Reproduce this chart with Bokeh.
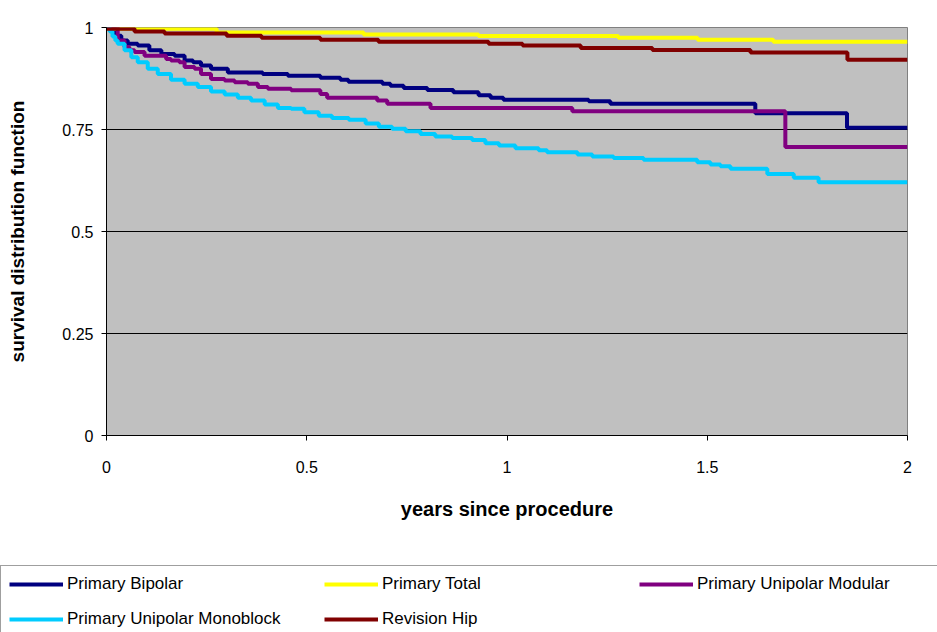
from bokeh.plotting import figure
from bokeh.layouts import column
from bokeh.models import Range1d, FixedTicker, Legend, LegendItem
from bokeh.embed import file_html
from bokeh.resources import INLINE

# ---- data ----
series_names = ["Primary Bipolar", "Primary Total", "Primary Unipolar Modular",
                "Primary Unipolar Monoblock", "Revision Hip"]
series_colors = ["#000080", "#FFFF00", "#800080", "#00CCFF", "#800000"]

t_bipolar = [0, 0.02, 0.037, 0.053, 0.078, 0.107, 0.137, 0.170, 0.195, 0.216, 0.236, 0.261,
             0.303, 0.390, 0.453, 0.534, 0.584, 0.604, 0.689, 0.709, 0.742, 0.801, 0.866,
             0.929, 0.959, 0.991, 1.204, 1.258, 1.620, 1.849, 2.0]
s_bipolar = [1.0, 0.980, 0.968, 0.960, 0.956, 0.944, 0.935, 0.931, 0.919, 0.915, 0.907, 0.899,
             0.890, 0.886, 0.882, 0.877, 0.872, 0.867, 0.862, 0.857, 0.852, 0.847, 0.841,
             0.834, 0.828, 0.823, 0.819, 0.813, 0.790, 0.754, 0.754]

t_total = [0, 0.275, 0.642, 0.929, 1.278, 1.476, 1.665, 2.0]
s_total = [0.997, 0.988, 0.983, 0.979, 0.975, 0.970, 0.965, 0.965]

t_modular = [0, 0.028, 0.045, 0.057, 0.070, 0.095, 0.149, 0.161, 0.182, 0.195, 0.220, 0.236,
             0.261, 0.295, 0.320, 0.353, 0.378, 0.403, 0.461, 0.534, 0.551, 0.676, 0.701,
             0.809, 1.163, 1.695, 2.0]
s_modular = [1.0, 0.968, 0.952, 0.944, 0.940, 0.931, 0.923, 0.919, 0.915, 0.903, 0.899, 0.886,
             0.874, 0.870, 0.866, 0.862, 0.854, 0.850, 0.846, 0.837, 0.828, 0.821, 0.813,
             0.803, 0.795, 0.707, 0.707]

t_monoblock = [0, 0.008, 0.015, 0.022, 0.028, 0.045, 0.062, 0.078, 0.103, 0.128, 0.161, 0.195,
               0.228, 0.261, 0.295, 0.328, 0.361, 0.395, 0.428, 0.461, 0.494, 0.530, 0.563,
               0.605, 0.647, 0.680, 0.713, 0.747, 0.784, 0.821, 0.863, 0.913, 0.946, 0.980,
               1.021, 1.079, 1.100, 1.176, 1.213, 1.266, 1.341, 1.475, 1.508, 1.533, 1.558,
               1.650, 1.716, 1.778, 2.0]
s_monoblock = [1.0, 0.990, 0.978, 0.968, 0.960, 0.944, 0.927, 0.915, 0.899, 0.886, 0.872, 0.862,
               0.854, 0.843, 0.836, 0.828, 0.821, 0.811, 0.803, 0.801, 0.792, 0.784, 0.778,
               0.774, 0.765, 0.757, 0.752, 0.746, 0.739, 0.733, 0.729, 0.724, 0.716, 0.711,
               0.704, 0.699, 0.694, 0.689, 0.684, 0.680, 0.676, 0.670, 0.664, 0.660, 0.654,
               0.641, 0.632, 0.621, 0.621]

t_revision = [0, 0.070, 0.145, 0.300, 0.387, 0.534, 0.679, 0.954, 1.039, 1.184, 1.363, 1.608,
              1.850, 2.0]
s_revision = [0.997, 0.990, 0.985, 0.980, 0.975, 0.970, 0.965, 0.960, 0.956, 0.950, 0.945,
              0.939, 0.921, 0.921]

x_ticks = [0, 0.5, 1, 1.5, 2]
x_tick_labels = ["0", "0.5", "1", "1.5", "2"]
y_ticks = [0, 0.25, 0.5, 0.75, 1]
y_tick_labels = ["0", "0.25", "0.5", "0.75", "1"]
y_grid = [0.25, 0.5, 0.75]

x_title = "years since procedure"
y_title = "survival distribution function"

FONT = "Liberation Sans"

p = figure(width=937, height=545, output_backend="svg", toolbar_location=None,
           x_range=Range1d(0, 2), y_range=Range1d(0, 1),
           min_border_left=106, min_border_right=30, min_border_top=27, min_border_bottom=110)
p.frame_align = False
p.background_fill_color = "#C0C0C0"
p.border_fill_color = "white"
p.outline_line_color = "#808080"
p.outline_line_width = 1

p.xgrid.visible = False
p.ygrid.ticker = FixedTicker(ticks=y_grid)
p.ygrid.grid_line_color = "black"
p.ygrid.grid_line_width = 1
p.ygrid.grid_line_alpha = 1

for ax, ticks, labels in ((p.xaxis[0], x_ticks, x_tick_labels), (p.yaxis[0], y_ticks, y_tick_labels)):
    ax.ticker = FixedTicker(ticks=ticks)
    ax.major_label_overrides = {t: l for t, l in zip(ticks, labels)}
    ax.axis_line_color = "black"
    ax.axis_line_width = 1
    ax.major_tick_line_color = "black"
    ax.major_tick_out = 5
    ax.major_tick_in = 0
    ax.minor_tick_line_color = None
    ax.major_label_text_font = FONT
    ax.major_label_text_font_size = "16px"
    ax.major_label_text_color = "black"
    ax.axis_label_text_font = FONT
    ax.axis_label_text_font_style = "bold"
    ax.axis_label_text_color = "black"

p.xaxis.axis_label = x_title
p.xaxis.axis_label_text_font_size = "20px"
p.xaxis.major_label_standoff = 20
p.xaxis.axis_label_standoff = 22
p.yaxis.axis_label = y_title
p.yaxis.axis_label_text_font_size = "19px"
p.yaxis.major_label_standoff = 8
p.yaxis.axis_label_standoff = 31

xs = [t_bipolar, t_total, t_modular, t_monoblock, t_revision]
ys = [s_bipolar, s_total, s_modular, s_monoblock, s_revision]
for x, y, c in zip(xs, ys, series_colors):
    p.step(x, y, mode="after", line_color=c, line_width=4)

# ---- legend strip below the chart (series drawn off-view, used only as legend keys) ----
lg = figure(width=937, height=87, output_backend="svg", toolbar_location=None,
            x_range=Range1d(0, 1), y_range=Range1d(10, 11),
            x_axis_location=None, y_axis_location=None,
            min_border_left=0, min_border_right=0, min_border_top=0, min_border_bottom=0)
lg.frame_align = False
lg.outline_line_color = None
lg.background_fill_color = "white"
lg.border_fill_color = "white"
lg.xgrid.visible = False
lg.ygrid.visible = False

keys = [lg.step(x, y, mode="after", line_color=c, line_width=4)
        for x, y, c in zip(xs, ys, series_colors)]
items = [LegendItem(label=n, renderers=[r]) for n, r in zip(series_names, keys)]
legend = Legend(items=items, location=(0, -6), orientation="horizontal", ncols=3,
                glyph_width=54, glyph_height=20, label_height=20, label_width=242,
                spacing=15, padding=8, label_standoff=4, margin=0,
                border_line_color="#404040", border_line_width=1,
                background_fill_color="white", background_fill_alpha=1,
                label_text_font=FONT, label_text_font_size="17px", label_text_color="black")
lg.add_layout(legend, "center")

layout = column(p, lg, spacing=0)
open("out.html", "w").write(file_html(layout, INLINE))
